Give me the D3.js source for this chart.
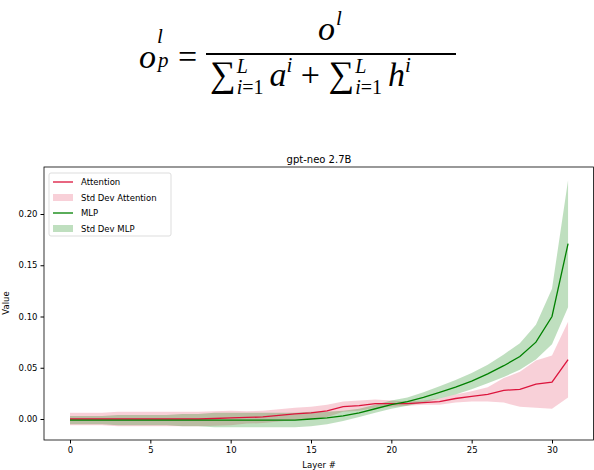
<!DOCTYPE html>
<html><head><meta charset="utf-8">
<script src="https://cdn.jsdelivr.net/npm/d3@7"></script>
<style>
body{margin:0;background:#fff;width:594px;height:470px;overflow:hidden;position:relative}
.f{position:absolute;font-family:"Liberation Serif",serif;font-size:34px;color:#000;line-height:1}
.i{font-style:italic}
</style></head><body>
<div class="f" style="left:139px;top:40px"><span class="i">o</span><span style="position:relative"><span class="i" style="position:absolute;left:1px;top:-12px;font-size:21px">l</span><span class="i" style="position:absolute;left:2px;top:12px;font-size:21px">p</span></span><span style="margin-left:22px">=</span></div>
<div class="f" style="left:318px;top:12px"><span class="i">o</span><span class="i" style="font-size:21px;position:relative;top:-15px;left:1px">l</span></div>
<div style="position:absolute;left:206px;top:53px;width:250px;height:1.5px;background:#000"></div>
<div class="f" style="left:210px;top:56px;white-space:nowrap"><span style="font-size:36px">∑</span><span style="display:inline-block;vertical-align:top;font-size:20px;line-height:21px;margin-left:1px"><span class="i">L</span><br><span class="i">i</span>=1</span><span class="i" style="margin-left:6px">a</span><span class="i" style="font-size:21px;position:relative;top:-14px">i</span> + <span style="font-size:36px">∑</span><span style="display:inline-block;vertical-align:top;font-size:20px;line-height:21px;margin-left:1px"><span class="i">L</span><br><span class="i">i</span>=1</span><span class="i" style="margin-left:6px">h</span><span class="i" style="font-size:21px;position:relative;top:-14px">i</span></div>
<svg id="c" width="594" height="470" style="position:absolute;left:0;top:0"></svg>
<script>
const layers=d3.range(32);
const attMean=[0,0,0,0,0,0,0,0,0,0.0005,0.001,0.0015,0.002,0.0035,0.005,0.006,0.008,0.012,0.013,0.015,0.015,0.015,0.016,0.017,0.020,0.022,0.024,0.028,0.029,0.034,0.036,0.058];
const attStd=[0.006,0.006,0.006,0.007,0.007,0.007,0.007,0.007,0.007,0.007,0.007,0.006,0.006,0.006,0.006,0.006,0.006,0.005,0.005,0.004,0.003,0.002,0.002,0.003,0.004,0.005,0.007,0.012,0.017,0.023,0.026,0.037];
const mlpMean=[-0.001,-0.001,-0.001,-0.001,-0.001,-0.001,-0.001,-0.001,-0.001,-0.001,-0.001,-0.001,-0.001,-0.001,-0.001,0,0.001,0.003,0.006,0.010,0.014,0.017,0.021,0.026,0.031,0.037,0.044,0.052,0.061,0.075,0.100,0.171];
const mlpStd=[0.004,0.004,0.004,0.005,0.005,0.005,0.005,0.006,0.006,0.007,0.007,0.007,0.007,0.007,0.007,0.007,0.006,0.005,0.004,0.004,0.004,0.004,0.005,0.006,0.007,0.008,0.009,0.011,0.013,0.017,0.027,0.062];
const yTicks=[0,0.05,0.1,0.15,0.2];
const svg=d3.select("#c");
const L=44,R=594,T=167,B=440;
const x=d3.scaleLinear().domain([0,30]).range([70,552]);
const y=d3.scaleLinear().domain([0,0.2]).range([419,214]);
const g=svg.append("g");
function band(m,s,col){g.append("path").datum(layers).attr("fill",col).attr("d",d3.area().x(i=>x(i)).y0(i=>y(m[i]-s[i])).y1(i=>y(m[i]+s[i])));}
band(attMean,attStd,"rgba(220,20,60,0.2)");
band(mlpMean,mlpStd,"rgba(0,128,0,0.25)");
function line(m,col){g.append("path").datum(layers).attr("fill","none").attr("stroke",col).attr("stroke-width",1.3).attr("d",d3.line().x(i=>x(i)).y(i=>y(m[i])));}
line(attMean,"#dc143c");line(mlpMean,"#008000");
svg.append("rect").attr("x",L).attr("y",T).attr("width",R-L-0.5).attr("height",B-T).attr("fill","none").attr("stroke","#000").attr("stroke-width",0.8);
const ff="DejaVu Sans";
svg.append("g").attr("transform",`translate(0,${B})`).call(d3.axisBottom(x).tickValues([0,5,10,15,20,25,30]).tickSize(3.5).tickFormat(d3.format("d"))).call(a=>{a.select(".domain").remove();a.selectAll("text").attr("font-family",ff).attr("font-size",8.5).attr("fill","#000");});
svg.append("g").attr("transform",`translate(${L},0)`).call(d3.axisLeft(y).tickValues(yTicks).tickSize(3.5).tickFormat(d3.format(".2f"))).call(a=>{a.select(".domain").remove();a.selectAll("text").attr("font-family",ff).attr("font-size",8.5).attr("fill","#000");});
svg.append("text").attr("x",(L+R)/2).attr("y",163).attr("text-anchor","middle").attr("font-family",ff).attr("font-size",10).text("gpt-neo 2.7B");
svg.append("text").attr("x",(L+R)/2).attr("y",468).attr("text-anchor","middle").attr("font-family",ff).attr("font-size",8.5).text("Layer #");
svg.append("text").attr("transform","translate(9,303) rotate(-90)").attr("text-anchor","middle").attr("font-family",ff).attr("font-size",8.5).text("Value");
const lg=svg.append("g").attr("transform","translate(49,173)");
lg.append("rect").attr("width",122).attr("height",63).attr("fill","#fff").attr("stroke","#ddd").attr("rx",2);
const items=[["Attention","line","#dc143c"],["Std Dev Attention","band","rgba(220,20,60,0.2)"],["MLP","line","#008000"],["Std Dev MLP","band","rgba(0,128,0,0.25)"]];
items.forEach((d,i)=>{const yy=9+i*15.5;
 if(d[1]=="line")lg.append("line").attr("x1",4).attr("x2",24).attr("y1",yy).attr("y2",yy).attr("stroke",d[2]).attr("stroke-width",1.3);
 else lg.append("rect").attr("x",4).attr("y",yy-3.5).attr("width",20).attr("height",7).attr("fill",d[2]);
 lg.append("text").attr("x",32).attr("y",yy+3).attr("font-family",ff).attr("font-size",8.5).text(d[0]);});
</script></body></html>
